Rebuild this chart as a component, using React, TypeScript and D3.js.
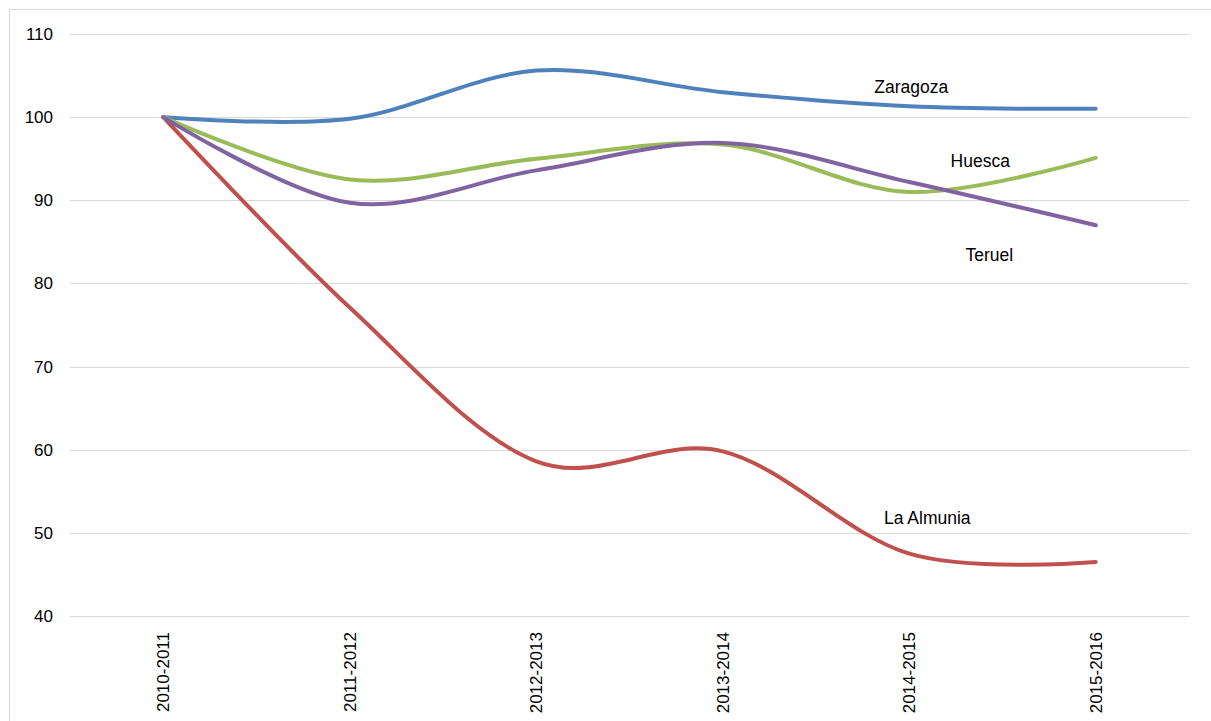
import React from "react";
import * as d3 from "d3";

const categories = ["2010-2011", "2011-2012", "2012-2013", "2013-2014", "2014-2015", "2015-2016"];
const zaragoza = [100, 99.8, 105.6, 103.0, 101.3, 101.0];
const laAlmunia = [100, 77.1, 58.6, 59.8, 47.5, 46.5];
const huesca = [100, 92.5, 95.0, 96.7, 91.0, 95.1];
const teruel = [100, 89.7, 93.6, 96.9, 92.2, 87.0];
const yTicks = [40, 50, 60, 70, 80, 90, 100, 110];

const series = [
  { name: "Zaragoza", values: zaragoza, color: "#4f81bd", label: { cat: 4, dx: 2, value: 103.7 } },
  { name: "La Almunia", values: laAlmunia, color: "#c0504d", label: { cat: 4, dx: 18, value: 51.8 } },
  { name: "Huesca", values: huesca, color: "#9bbb59", label: { cat: 4, dx: 71, value: 94.7 } },
  { name: "Teruel", values: teruel, color: "#8064a2", label: { cat: 4, dx: 80, value: 83.4 } },
];

export default function App() {
  const W = 1211, H = 721;
  const left = 70, right = 1189, top = 34, bottom = 616;
  const x = d3.scaleBand<string>().domain(categories).range([left, right]);
  const y = d3.scaleLinear().domain([40, 110]).range([bottom, top]);
  const cx = (c: string) => (x(c) as number) + x.bandwidth() / 2;
  const line = d3
    .line<number>()
    .x((_, i) => cx(categories[i]))
    .y((v) => y(v))
    .curve(d3.curveCardinal.tension(0));

  return (
    <svg width={W} height={H} style={{ position: "absolute", left: 0, top: 0 }} fontFamily="'Liberation Sans', Arial, sans-serif">
      <rect x={0} y={0} width={W} height={H} fill="#fff" />
      <rect x={9.5} y={9.5} width={W + 20} height={H + 20} fill="none" stroke="#d9d9d9" strokeWidth={1} />
      {yTicks.map((t) => (
        <g key={t}>
          <line x1={left} x2={right} y1={Math.round(y(t)) + 0.5} y2={Math.round(y(t)) + 0.5} stroke="#d9d9d9" strokeWidth={1} />
          <text x={53} y={y(t)} dy="0.35em" textAnchor="end" fontSize={17} fill="#000">
            {t}
          </text>
        </g>
      ))}
      {categories.map((c) => (
        <text
          key={c}
          transform={`translate(${cx(c) + 6},${632}) rotate(-90)`}
          textAnchor="end"
          fontSize={17}
          fill="#000"
        >
          {c}
        </text>
      ))}
      {series.map((s) => (
        <path key={s.name} d={line(s.values) || ""} fill="none" stroke={s.color} strokeWidth={4} strokeLinecap="round" strokeLinejoin="round" />
      ))}
      {series.map((s) => (
        <text
          key={s.name + "l"}
          x={cx(categories[s.label.cat]) + s.label.dx}
          y={y(s.label.value)}
          dy="0.35em"
          textAnchor="middle"
          fontSize={17.5}
          fill="#000"
        >
          {s.name}
        </text>
      ))}
    </svg>
  );
}
